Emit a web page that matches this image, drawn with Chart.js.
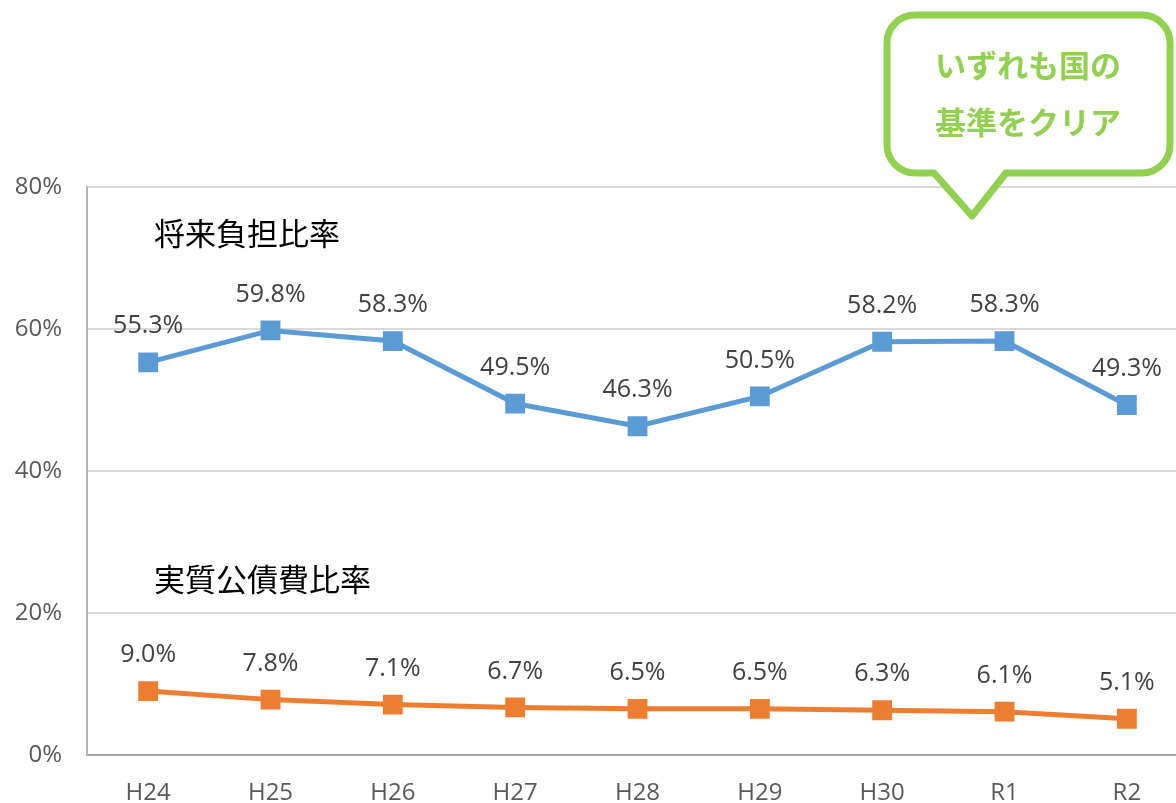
<!DOCTYPE html>
<html>
<head>
<meta charset="utf-8">
<script src="https://cdn.jsdelivr.net/npm/chart.js@4"></script>
<style>
  html { margin: 0; padding: 0; overflow: hidden; width: 1188px; }
  body { margin: 0; padding: 0; background: #fff; width: 1188px; height: 803px; }
  #wrap { position: absolute; left: 0; top: 0; width: 1188px; height: 803px; }
  canvas { display: block; }
</style>
</head>
<body>
<div id="wrap"><canvas id="chart"></canvas></div>
<script>
// data
const years = ['H24', 'H25', 'H26', 'H27', 'H28', 'H29', 'H30', 'R1', 'R2'];
const futureBurden = [55.3, 59.8, 58.3, 49.5, 46.3, 50.5, 58.2, 58.3, 49.3];
const debtService = [9.0, 7.8, 7.1, 6.7, 6.5, 6.5, 6.3, 6.1, 5.1];
const yTicks = [0, 20, 40, 60, 80];
const seriesNames = ['将来負担比率', '実質公債費比率'];
const calloutLines = ['いずれも国の', '基準をクリア'];

const latin = '"Open Sans", "Noto Sans", sans-serif';
const jp = '"Noto Sans CJK JP", sans-serif';

// value labels above each point
const valueLabels = {
  id: 'valueLabels',
  afterDatasetsDraw(chart) {
    const ctx = chart.ctx;
    ctx.save();
    ctx.font = '25px ' + latin;
    ctx.fillStyle = '#404040';
    ctx.textAlign = 'center';
    ctx.textBaseline = 'middle';
    chart.data.datasets.forEach((ds, i) => {
      chart.getDatasetMeta(i).data.forEach((pt, j) => {
        ctx.fillText(ds.data[j].toFixed(1) + '%', pt.x, pt.y - 36);
      });
    });
    ctx.restore();
  }
};

// series names and the speech bubble
const notes = {
  id: 'notes',
  afterDraw(chart) {
    const ctx = chart.ctx;
    const y = chart.scales.y;
    ctx.save();
    ctx.font = '31px ' + jp;
    ctx.fillStyle = '#000';
    ctx.textAlign = 'left';
    ctx.textBaseline = 'middle';
    ctx.fillText(seriesNames[0], 154, y.getPixelForValue(73.5));
    ctx.fillText(seriesNames[1], 154, y.getPixelForValue(24.8));

    // bubble
    const l = 887, t = 15, r = 1170, b = 173, rad = 28;
    ctx.beginPath();
    ctx.moveTo(l + rad, t);
    ctx.lineTo(r - rad, t);
    ctx.arcTo(r, t, r, t + rad, rad);
    ctx.lineTo(r, b - rad);
    ctx.arcTo(r, b, r - rad, b, rad);
    ctx.lineTo(1006, b);
    ctx.lineTo(972, 216);
    ctx.lineTo(934, b);
    ctx.lineTo(l + rad, b);
    ctx.arcTo(l, b, l, b - rad, rad);
    ctx.lineTo(l, t + rad);
    ctx.arcTo(l, t, l + rad, t, rad);
    ctx.closePath();
    ctx.fillStyle = '#fff';
    ctx.fill();
    ctx.lineWidth = 7;
    ctx.lineJoin = 'round';
    ctx.strokeStyle = '#92d050';
    ctx.stroke();

    ctx.font = 'bold 31px ' + jp;
    ctx.fillStyle = '#92d050';
    ctx.textAlign = 'center';
    ctx.fillText(calloutLines[0], 1028, 65);
    ctx.fillText(calloutLines[1], 1028, 122);
    ctx.restore();
  }
};

new Chart(document.getElementById('chart'), {
  type: 'line',
  data: {
    labels: years,
    datasets: [
      {
        label: seriesNames[0],
        data: futureBurden,
        borderColor: '#5b9bd5',
        backgroundColor: '#5b9bd5',
        borderWidth: 5,
        pointStyle: 'rect',
        pointRadius: 10.5,
        pointHoverRadius: 10.5,
        tension: 0
      },
      {
        label: seriesNames[1],
        data: debtService,
        borderColor: '#ed7d31',
        backgroundColor: '#ed7d31',
        borderWidth: 5,
        pointStyle: 'rect',
        pointRadius: 10.5,
        pointHoverRadius: 10.5,
        tension: 0
      }
    ]
  },
  options: {
    responsive: true,
    maintainAspectRatio: false,
    animation: false,
    devicePixelRatio: 1,
    layout: { autoPadding: false, padding: { top: 187, right: 0, left: 0, bottom: 0 } },
    plugins: {
      legend: { display: false },
      tooltip: { enabled: false }
    },
    scales: {
      x: {
        offset: true,
        grid: { display: false, drawTicks: false },
        border: { color: '#a6a6a6', width: 2 },
        ticks: { color: '#595959', font: { family: latin, size: 24 }, padding: 24 },
        afterFit(scale) {
          scale.height = 48;
          scale.paddingLeft = 0;
          scale.paddingRight = 0;
        }
      },
      y: {
        min: 0,
        max: 80,
        afterBuildTicks(scale) { scale.ticks = yTicks.map(v => ({ value: v })); },
        grid: { color: '#d9d9d9', lineWidth: 2, drawTicks: false },
        border: { color: '#b3b3b3', width: 2 },
        ticks: {
          color: '#595959',
          font: { family: latin, size: 24 },
          padding: 25,
          callback: v => v + '%'
        },
        afterFit(scale) { scale.width = 87; }
      }
    }
  },
  plugins: [valueLabels, notes]
});
</script>
</body>
</html>
